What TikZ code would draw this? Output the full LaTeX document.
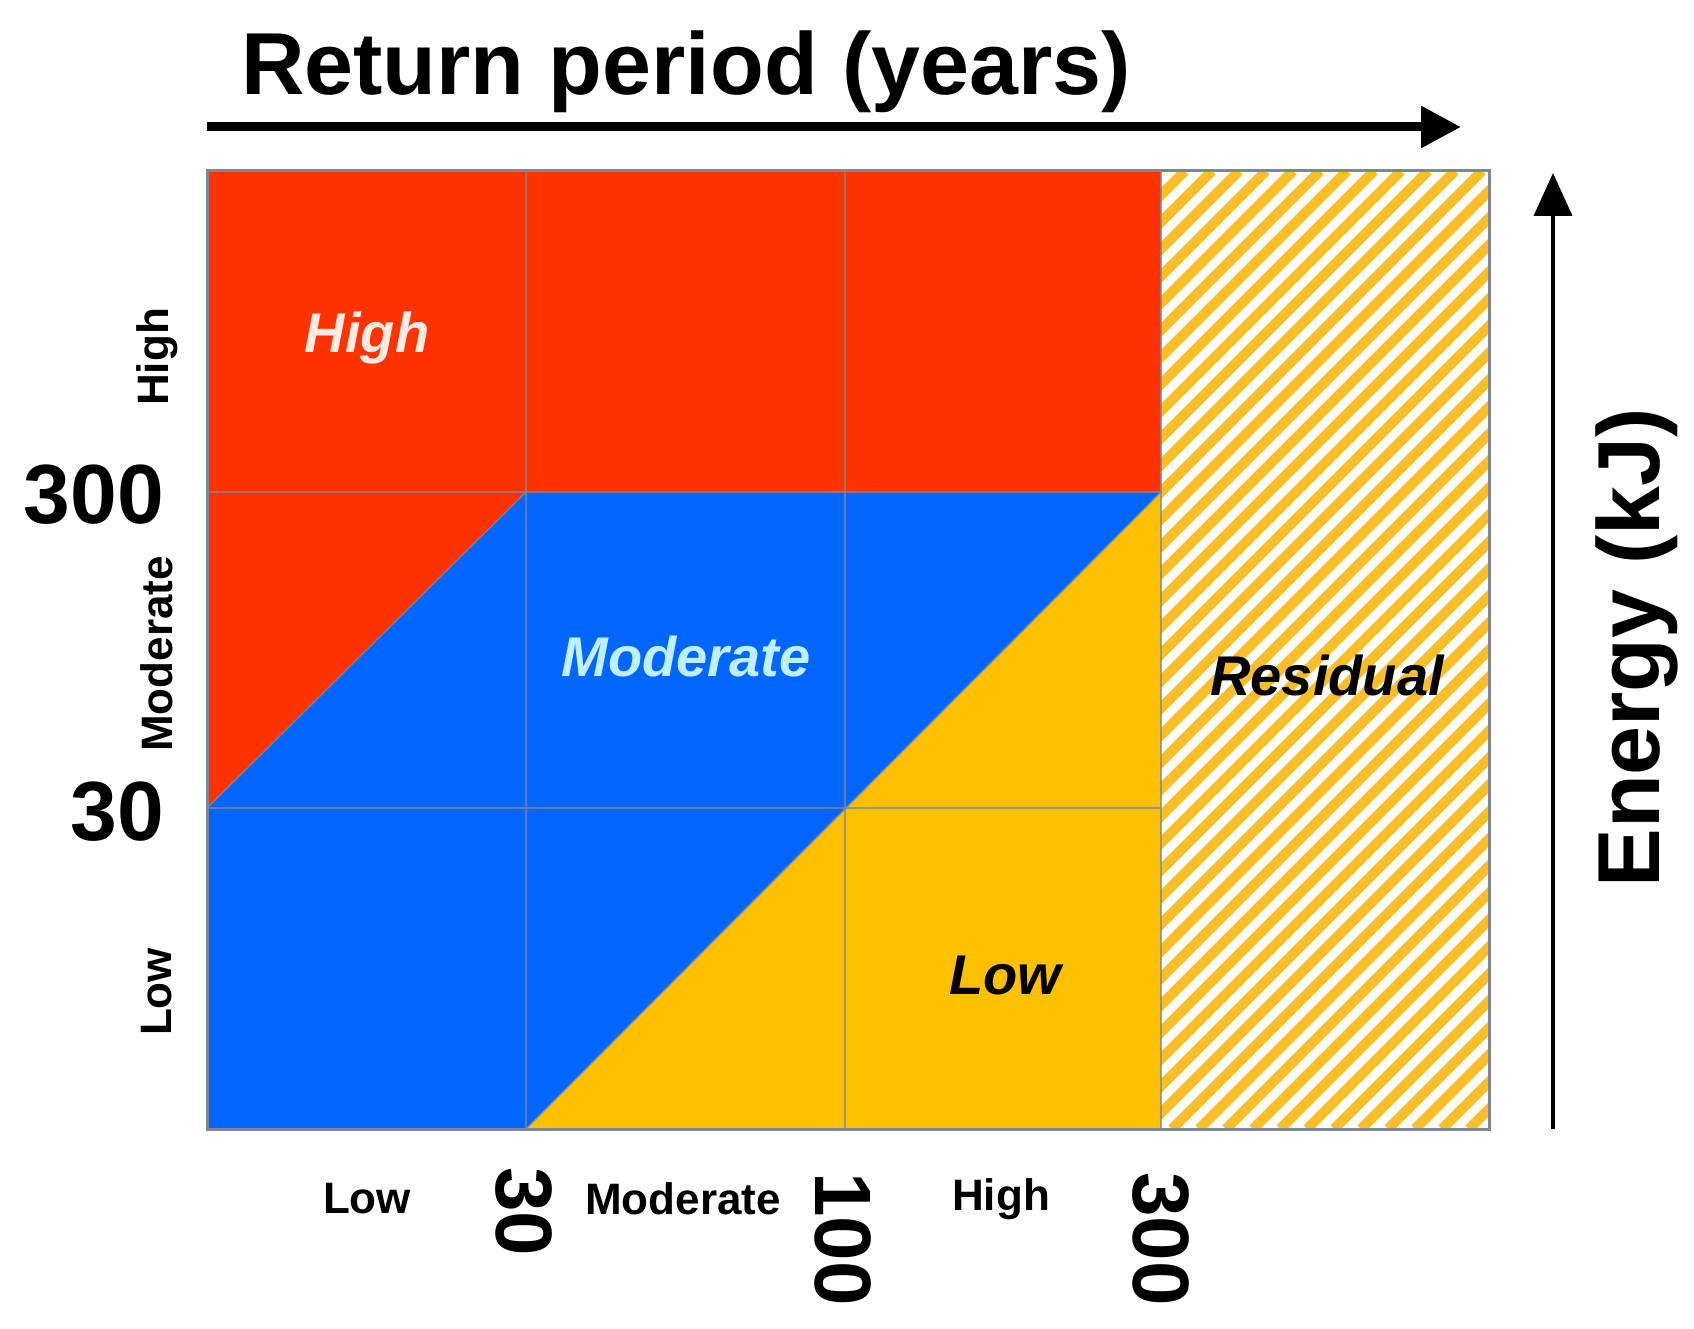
\documentclass[tikz,border=0pt]{standalone}
\usepackage{fontspec}
\setmainfont{Liberation Sans}
\usetikzlibrary{arrows.meta}
\definecolor{riskred}{RGB}{255,51,0}
\definecolor{riskblue}{RGB}{0,102,255}
\definecolor{riskyellow}{RGB}{255,192,0}
\definecolor{gridgray}{RGB}{125,135,150}
\definecolor{stripecol}{RGB}{250,190,40}
\definecolor{modtext}{RGB}{190,240,255}
\definecolor{hightext}{RGB}{255,235,225}
\begin{document}
\begin{tikzpicture}[x=1pt,y=-1pt,
  title/.style={font=\bfseries\fontsize{88}{100}\selectfont, inner sep=0pt},
  bignum/.style={font=\bfseries\fontsize{84}{96}\selectfont, inner sep=0pt},
  botnum/.style={font=\bfseries\fontsize{80}{92}\selectfont, inner sep=0pt, rotate=-90, anchor=west},
  axlab/.style={font=\bfseries\fontsize{44}{50}\selectfont, inner sep=0pt},
  zonelab/.style={font=\bfseries\itshape\fontsize{56}{64}\selectfont, inner sep=0pt},
  gridline/.style={draw=gridgray, line width=2.5pt, opacity=0.75},
  axisarrow/.style={draw=black}
]
\useasboundingbox (0,0) rectangle (1694,1329);
% grid coordinates
\coordinate (x0y0) at (207,171);
\coordinate (x1y0) at (526,171);
\coordinate (x2y0) at (845,171);
\coordinate (x3y0) at (1161,171);
\coordinate (x4y0) at (1489,171);
\coordinate (x0y1) at (207,492);
\coordinate (x1y1) at (526,492);
\coordinate (x3y1) at (1161,492);
\coordinate (x0y2) at (207,808);
\coordinate (x2y2) at (845,808);
\coordinate (x3y2) at (1161,808);
\coordinate (x0y3) at (207,1129);
\coordinate (x1y3) at (526,1129);
\coordinate (x2y3) at (845,1129);
\coordinate (x3y3) at (1161,1129);
\coordinate (x4y3) at (1489,1129);
% zones
\fill[riskred] (x0y0) -- (x3y0) -- (x3y1) -- (x1y1) -- (x0y2) -- cycle;
\fill[riskblue] (x0y2) -- (x1y1) -- (x3y1) -- (x1y3) -- (x0y3) -- cycle;
\fill[riskyellow] (x1y3) -- (x3y1) -- (x3y3) -- cycle;
\fill[white] (x3y0) rectangle (x4y3);
\begin{scope}
  \clip (x3y0) rectangle (x4y3);
  \foreach \i in {0,...,50}
    \draw[stripecol, line width=10pt] ({200+\i*27},1129) -- ++(958,-958);
\end{scope}
% grid lines
\draw[gridline] (x1y0) -- (x1y3);
\draw[gridline] (x2y0) -- (x2y3);
\draw[gridline] (x3y0) -- (x3y3);
\draw[gridline] (x0y1) -- (x3y1);
\draw[gridline] (x0y2) -- (x3y2);
\draw[gridline, line width=1.5pt] (x0y2) -- (x1y1);
\draw[gridline, line width=1.5pt] (x1y3) -- (x3y1);
\draw[draw=gridgray, line width=3pt] (x0y0) rectangle (x4y3);
% axes
\coordinate (hstart) at (207,127);
\coordinate (hend) at (1461,127);
\draw[axisarrow, line width=9pt, -{Triangle[length=40pt,width=40pt]}] (hstart) -- (hend);
\coordinate (vstart) at (1553,1129);
\coordinate (vend) at (1553,173);
\draw[axisarrow, line width=4pt, -{Triangle[length=43pt,width=38pt]}] (vstart) -- (vend);
\node[title, anchor=base] (ttl) at (686,95) {Return period (years)};
\node[title, rotate=90] (ylab) at (1637,648) {Energy (kJ)};
% left labels
\node[bignum, anchor=east] (l300) at (164,495) {300};
\node[bignum, anchor=east] (l30) at (164,812) {30};
\node[axlab, rotate=90] (lhigh) at (157,357) {High};
\node[axlab, rotate=90] (lmod) at (157,654) {Moderate};
\node[axlab, rotate=90] (llow) at (157,992) {Low};
% bottom labels
\node[botnum] (b30) at (524,1167) {30};
\node[botnum] (b100) at (843,1172) {100};
\node[botnum] (b300) at (1161,1172) {300};
\node[axlab] (blow) at (367,1199) {Low};
\node[axlab] (bmod) at (683,1199) {Moderate};
\node[axlab] (bhigh) at (1001,1199) {High};
% zone labels
\node[zonelab, text=hightext] (zhigh) at (367,338) {High};
\node[zonelab, text=modtext] (zmod) at (686,656) {Moderate};
\node[zonelab, text=black] (zlow) at (1005,976) {Low};
\node[zonelab, text=black] (zres) at (1327,675) {Residual};
\end{tikzpicture}
\end{document}
